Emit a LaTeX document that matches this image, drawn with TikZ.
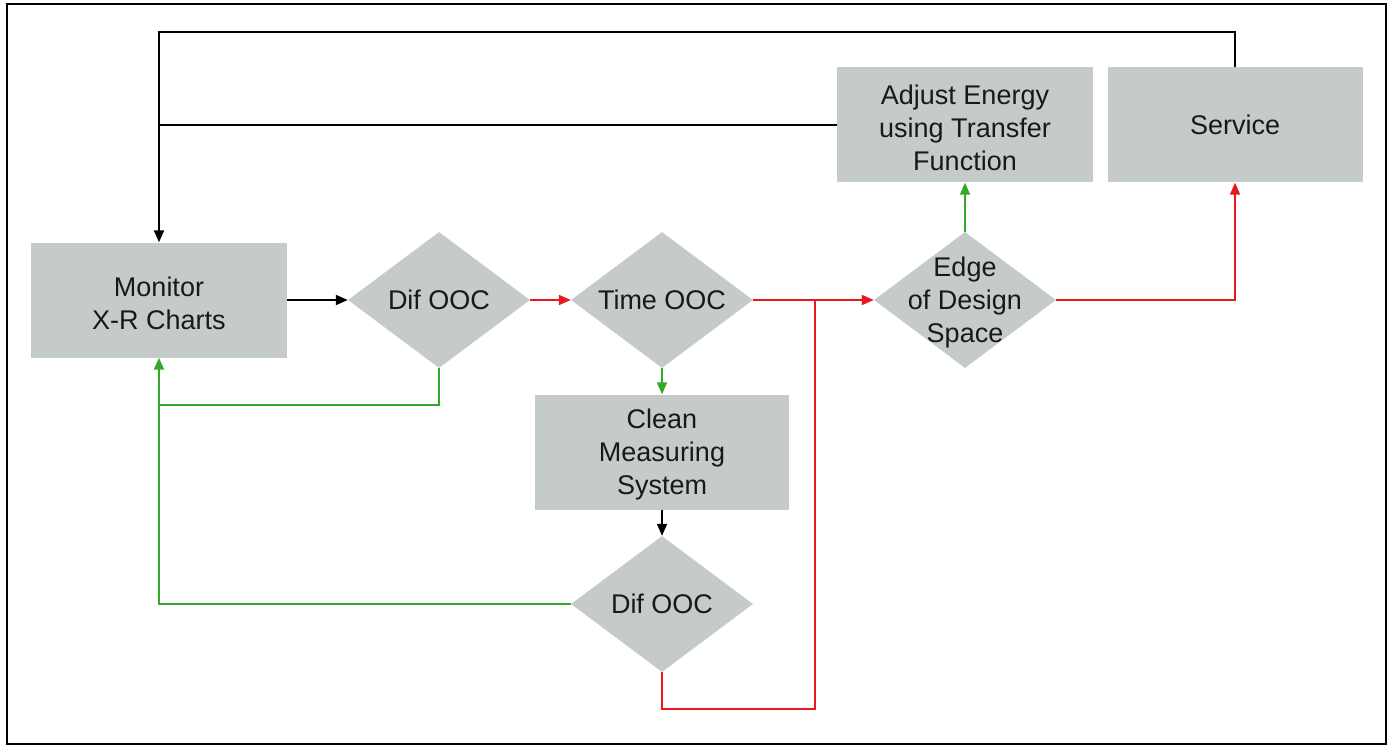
\documentclass[tikz,border=0pt]{standalone}
\usepackage{fontspec}
\setmainfont{Liberation Sans}
\usetikzlibrary{shapes.geometric,arrows.meta}
\definecolor{boxgrey}{RGB}{197,203,203}
\definecolor{flowred}{RGB}{232,24,30}
\definecolor{flowgreen}{RGB}{52,168,40}
\definecolor{txtcol}{RGB}{25,25,25}
\tikzset{
  stepbox/.style={rectangle, fill=boxgrey, inner sep=0pt, minimum width=256pt, minimum height=115pt,
    align=center, font=\fontsize{27}{33}\selectfont, text=txtcol},
  decision/.style={diamond, fill=boxgrey, inner sep=0pt, minimum width=182pt, minimum height=136pt},
  dtext/.style={align=center, font=\fontsize{27}{33}\selectfont, text=txtcol, inner sep=0pt},
  label shift/.style={yshift=-3pt},
  link/.style={line width=1.8pt, -{Triangle[length=12pt,width=10pt]}},
  plain/.style={line width=1.8pt},
}
\begin{document}
\begin{tikzpicture}[x=1pt,y=-1pt]
\useasboundingbox (0,0) rectangle (1391,746);
\draw[line width=1.8pt] (7,4) rectangle (1386,744);

% process boxes
\node[stepbox] (mon) at (159,300) {};
\node[dtext, label shift] at (mon) {Monitor\\X-R Charts};
\node[stepbox, minimum width=254pt] (clean) at (662,452) {};
\node[dtext, label shift] at (clean) {Clean\\Measuring\\System};
\node[stepbox] (adj) at (965,125) {};
\node[dtext, label shift] at (adj) {Adjust Energy\\using Transfer\\Function};
\node[stepbox, minimum width=255pt] (srv) at (1235,125) {};
\node[dtext] at (srv) {Service};

% decisions
\node[decision] (dif1) at (439,300) {};
\node[dtext] at (dif1) {Dif OOC};
\node[decision] (time) at (662,300) {};
\node[dtext] at (time) {Time OOC};
\node[decision] (dif2) at (662,604) {};
\node[dtext] at (dif2) {Dif OOC};
\node[decision] (edge) at (965,300) {};
\node[dtext, label shift] at (edge) {Edge\\of Design\\Space};

% junction points
\coordinate (jred) at (815,300);
\coordinate (jgreen) at (159,405);
\coordinate (jtop) at (159,125);

% main line
\draw[link] (mon.east) -- (dif1.west);
\draw[link, flowred] (dif1.east) -- (time.west);
\draw[link, flowred] (time.east) -- (edge.west);
\draw[link, flowgreen] (time.south) -- (clean.north);
\draw[link] (clean.south) -- (dif2.north);
\draw[link, flowgreen] (edge.north) -- (adj.south);
\draw[link, flowred] (edge.east) -| (srv.south);

% red return from second difference check
\draw[plain, flowred] (dif2.south) |- (815,709) -- (jred);

% green loops back to monitoring
\draw[link, flowgreen] (dif1.south) |- (jgreen) -- (mon.south);
\draw[plain, flowgreen] (dif2.west) -| (jgreen);

% black loops back to monitoring
\draw[link] (srv.north) |- (159,32) -- (mon.north);
\draw[plain] (adj.west) -- (jtop);
\end{tikzpicture}
\end{document}
